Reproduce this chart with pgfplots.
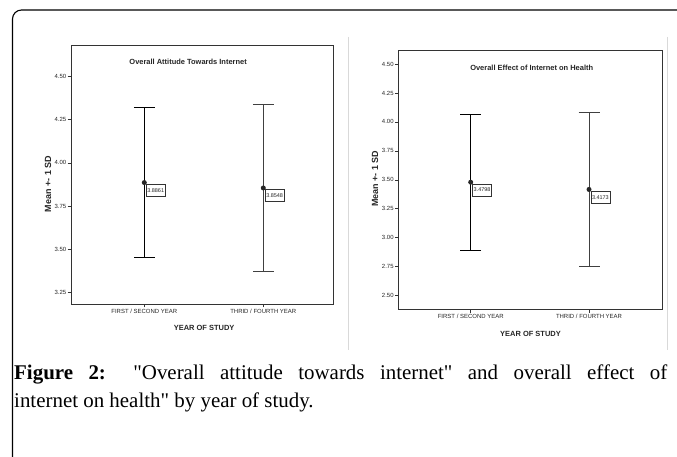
\documentclass[border=0pt]{standalone}
\usepackage{fontspec}
\setmainfont{Liberation Serif}
\newfontfamily\arial{Liberation Sans}
\usepackage{pgfplots}
\pgfplotsset{compat=1.18}
\pgfplotsset{mychart/.style={
  scale only axis,
  axis line style={black!80, line width=0.9bp},
  tick align=outside, xtick pos=bottom, ytick pos=left,
  major tick length=3.5bp,
  tick style={black!80, line width=0.7bp},
  xtick={0,1},
  xticklabels={FIRST / SECOND YEAR, THRID / FOURTH YEAR},
  /pgf/number format/assume math mode=true,
  yticklabel style={/pgf/number format/fixed, /pgf/number format/fixed zerofill, /pgf/number format/precision=2, inner sep=1bp},
  xticklabel style={inner sep=1.5bp},
  tick label style={font=\arial\fontsize{6}{7}\selectfont, text=black!85},
  ylabel={Mean +- 1 SD}, xlabel={YEAR OF STUDY},
  xlabel style={font=\arial\bfseries\fontsize{7.5}{9}\selectfont, text=black!85},
  ylabel style={font=\arial\bfseries\fontsize{9}{10}\selectfont, text=black!85},
  nodes near coords={\pgfmathprintnumber[fixed,fixed zerofill,precision=4,assume math mode=true]{\pgfplotspointmeta}},
  every node near coord/.append style={anchor=north west, draw=black!80, line width=0.6bp, fill=white, inner xsep=1.2bp, inner ysep=0bp, minimum height=12bp, font=\arial\fontsize{5.5}{6}\selectfont, text=black!85, xshift=1.5bp, yshift=-1.5bp},
}}
\pgfplotsset{meanbar/.style={line width=0.9bp, mark=*, mark options={mark size=2bp, fill=black!85, draw=black!85},
  error bars/.cd, y dir=both, y explicit,
  error bar style={line width=0.9bp},
  error mark options={rotate=90, mark size=10.5bp, line width=0.9bp}}}
\begin{document}
\begin{tikzpicture}[x=1bp,y=1bp]
\useasboundingbox (0,0) rectangle (677,457);
\fill[white] (0,0) rectangle (677,457);
\draw[line width=1.1bp, rounded corners=9bp] (685,447) -- (12.5,447) -- (12.5,-5);
\draw[black!15, line width=0.6bp] (348,420) -- (348,107);
\draw[black!15, line width=0.6bp] (667,420) -- (667,107);

\begin{axis}[mychart,
  at={(71bp,412bp)}, anchor=north west,
  width=262bp, height=259bp,
  xmin=-0.616, xmax=1.586, ymin=3.182, ymax=4.684,
  ytick={3.25,3.5,3.75,4,4.25,4.5},
  ylabel style={at={(axis description cs:-0.088,0.463)}, anchor=center},
  xlabel style={at={(axis description cs:0.508,-0.0927)}, anchor=center},
]
\addplot[black, meanbar] coordinates {(0,3.8861) +- (0,0.437)};
\addplot[black!75, meanbar] coordinates {(1,3.8548) +- (0,0.486)};
\node[font=\arial\bfseries\fontsize{7.5}{9}\selectfont, text=black!85] at (rel axis cs:0.447,0.9355) {Overall Attitude Towards Internet};
\end{axis}

\begin{axis}[mychart,
  at={(398.3bp,406.3bp)}, anchor=north west,
  width=264.4bp, height=258.6bp,
  xmin=-0.612, xmax=1.623, ymin=2.383, ymax=4.615,
  ytick={2.5,2.75,3,3.25,3.5,3.75,4,4.25,4.5},
  ylabel style={at={(axis description cs:-0.088,0.504)}, anchor=center},
  xlabel style={at={(axis description cs:0.50,-0.0955)}, anchor=center},
]
\addplot[black, meanbar] coordinates {(0,3.4798) +- (0,0.586)};
\addplot[black!75, meanbar] coordinates {(1,3.4173) +- (0,0.666)};
\node[font=\arial\bfseries\fontsize{7.5}{9}\selectfont, text=black!85] at (rel axis cs:0.5045,0.934) {Overall Effect of Internet on Health};
\end{axis}

\node[anchor=north west, inner sep=0pt, text width=653bp, align=justify, font=\fontsize{21}{28}\selectfont] at (14,92)
  {\textbf{Figure 2:} \textquotedbl Overall attitude towards internet\textquotedbl{} and overall effect of\linebreak internet on health\textquotedbl{} by year of study.};
\end{tikzpicture}
\end{document}
